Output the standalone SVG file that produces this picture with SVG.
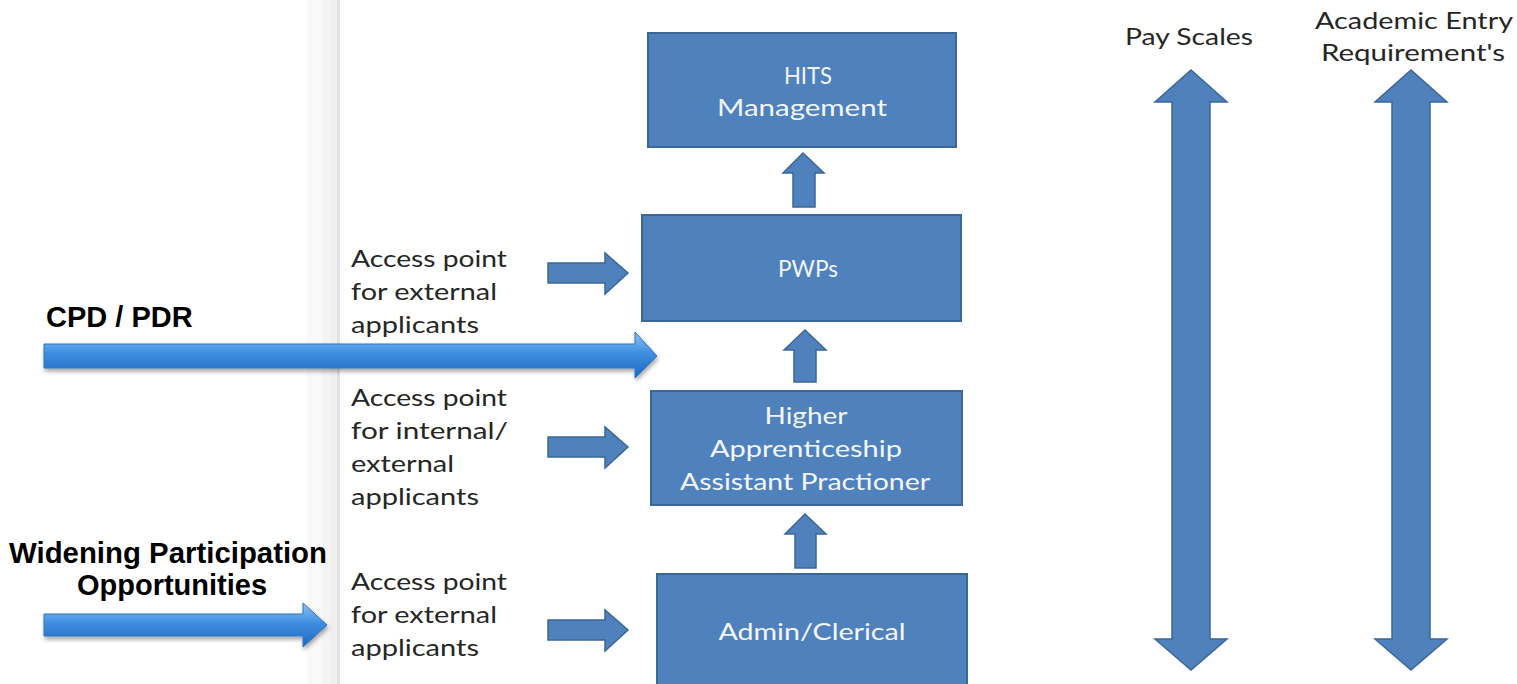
<svg xmlns="http://www.w3.org/2000/svg" width="1517" height="684" viewBox="0 0 1517 684">
<defs>
<style>
.box{fill:#4f81bd;stroke:#3b6797;stroke-width:2}
.blk{fill:#4f81bd;stroke:#3b6797;stroke-width:1.5;stroke-linejoin:miter}
.bt{font-family:Lato,"Open Sans",sans-serif;font-size:24px;fill:#f4f6fa;text-anchor:middle}
.lt{font-family:Lato,"Open Sans",sans-serif;font-size:24px;fill:#262626}
.bold{font-family:"Liberation Sans",Arial,sans-serif;font-weight:bold;font-size:29px;fill:#000}
.hd{font-family:Lato,"Open Sans",sans-serif;font-size:23px;fill:#262626;text-anchor:middle}
.grad{fill:url(#g);stroke:#2f74c4;stroke-width:1;filter:url(#sh)}
</style>
<linearGradient id="g" x1="0" y1="0" x2="0" y2="1">
<stop offset="0" stop-color="#8dc2f2"/>
<stop offset="0.45" stop-color="#3f8fe2"/>
<stop offset="1" stop-color="#1c68c0"/>
</linearGradient>
<filter id="sh" x="-5%" y="-30%" width="110%" height="180%">
<feDropShadow dx="1" dy="3" stdDeviation="2" flood-color="#000" flood-opacity="0.35"/>
</filter>
</defs>
<rect width="1517" height="684" fill="#fff"/>
<g id="sidebar">
<rect x="307" y="0" width="15" height="684" fill="#f9f9f9"/>
<rect x="322" y="0" width="8" height="684" fill="#f4f4f4"/>
<rect x="330" y="0" width="7" height="684" fill="#efefef"/>
<rect x="337" y="0" width="3" height="684" fill="#e2e2e2"/>
</g>
<g id="node-hits">
<rect class="box" x="648" y="33" width="308" height="114"/>
<text class="bt" x="808" y="84" textLength="48" lengthAdjust="spacingAndGlyphs">HITS</text>
<text class="bt" x="802" y="116" textLength="170" lengthAdjust="spacingAndGlyphs">Management</text>
</g>
<g id="node-pwps">
<rect class="box" x="642" y="215" width="319" height="106"/>
<text class="bt" x="808" y="277" textLength="60" lengthAdjust="spacingAndGlyphs">PWPs</text>
</g>
<g id="node-haap">
<rect class="box" x="651" y="391" width="311" height="114"/>
<text class="bt" x="806" y="424" textLength="83" lengthAdjust="spacingAndGlyphs">Higher</text>
<text class="bt" x="806" y="457" textLength="192" lengthAdjust="spacingAndGlyphs">Apprenticeship</text>
<text class="bt" x="805" y="490" textLength="250" lengthAdjust="spacingAndGlyphs">Assistant Practioner</text>
</g>
<g id="node-admin">
<rect class="box" x="657" y="574" width="310" height="120"/>
<text class="bt" x="812" y="640" textLength="187" lengthAdjust="spacingAndGlyphs">Admin/Clerical</text>
</g>
<g id="labels">
<text class="lt" x="351" y="267" textLength="156" lengthAdjust="spacingAndGlyphs">Access point</text>
<text class="lt" x="351" y="300" textLength="146" lengthAdjust="spacingAndGlyphs">for external</text>
<text class="lt" x="351" y="333" textLength="128" lengthAdjust="spacingAndGlyphs">applicants</text>
<text class="lt" x="351" y="406" textLength="156" lengthAdjust="spacingAndGlyphs">Access point</text>
<text class="lt" x="351" y="439" textLength="157" lengthAdjust="spacingAndGlyphs">for internal/</text>
<text class="lt" x="351" y="472" textLength="103" lengthAdjust="spacingAndGlyphs">external</text>
<text class="lt" x="351" y="505" textLength="128" lengthAdjust="spacingAndGlyphs">applicants</text>
<text class="lt" x="351" y="590" textLength="156" lengthAdjust="spacingAndGlyphs">Access point</text>
<text class="lt" x="351" y="623" textLength="146" lengthAdjust="spacingAndGlyphs">for external</text>
<text class="lt" x="351" y="656" textLength="128" lengthAdjust="spacingAndGlyphs">applicants</text>
<text class="bold" x="46" y="327">CPD / PDR</text>
<text class="bold" x="168" y="563" text-anchor="middle" textLength="318" lengthAdjust="spacingAndGlyphs">Widening Participation</text>
<text class="bold" x="172" y="595" text-anchor="middle">Opportunities</text>
<text class="hd" x="1189" y="45" textLength="128" lengthAdjust="spacingAndGlyphs">Pay Scales</text>
<text class="hd" x="1414" y="29" textLength="198" lengthAdjust="spacingAndGlyphs">Academic Entry</text>
<text class="hd" x="1413" y="61" textLength="184" lengthAdjust="spacingAndGlyphs">Requirement's</text>
</g>
<g id="connectors">
<polygon class="blk" points="793,207 793,173 783,173 803,153 824,173 815,173 815,207"/>
<polygon class="blk" points="794,382 794,350 784,350 805,330 826,350 816,350 816,382"/>
<polygon class="blk" points="795,568 795,534 785,534 805,514 826,534 816,534 816,568"/>
<polygon class="blk" points="548,263 605,263 605,253 628,273 605,294 605,283 548,283"/>
<polygon class="blk" points="548,437 605,437 605,427 628,447 605,468 605,457 548,457"/>
<polygon class="blk" points="548,620 605,620 605,610 628,630 605,651 605,640 548,640"/>
<polygon class="blk" points="1172,102 1155,102 1191,70 1227,102 1210,102 1210,639 1227,639 1191,670 1155,639 1172,639"/>
<polygon class="blk" points="1392,102 1375,102 1411,70 1447,102 1430,102 1430,639 1447,639 1411,670 1375,639 1392,639"/>
<polygon class="grad" points="44,344 635,344 635,332 657,356 635,378 635,368 44,368"/>
<polygon class="grad" points="44,614 303,614 303,603 327,625 303,647 303,636 44,636"/>
</g>
</svg>
